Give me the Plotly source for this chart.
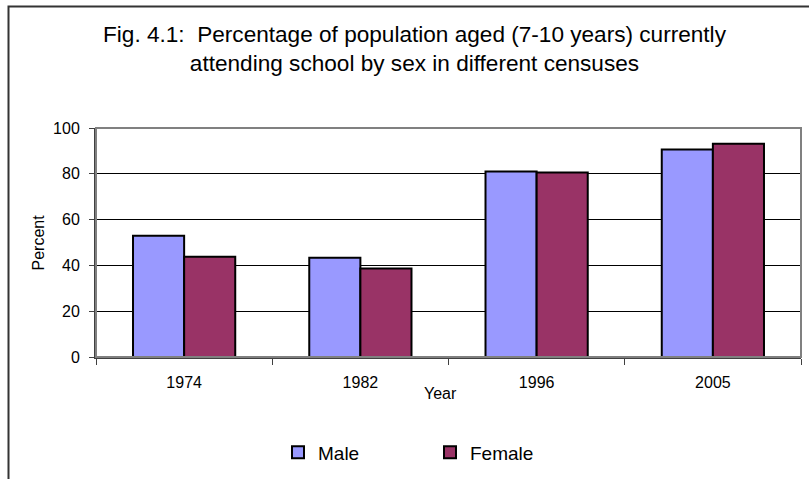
import plotly.graph_objects as go

years = ["1974", "1982", "1996", "2005"]
male = [52.9, 43.3, 81.0, 90.6]
female = [43.8, 38.6, 80.6, 93.1]
y_ticks = [0, 20, 40, 60, 80, 100]

W, H = 809, 479
L, R, T, B = 96, 801, 128, 361
pw, ph = R - L, B - T

def px(x):
    return (x - L) / pw

def py(y):
    return (B - y) / ph

FONT = "Arial, Liberation Sans, sans-serif"

fig = go.Figure()
fig.add_trace(go.Bar(x=years, y=male, name="Male",
                     marker=dict(color="#9999FF", line=dict(color="#000000", width=2))))
fig.add_trace(go.Bar(x=years, y=female, name="Female",
                     marker=dict(color="#993366", line=dict(color="#000000", width=2))))

fig.update_layout(
    width=W, height=H,
    margin=dict(l=L, r=W - R, t=T, b=H - B, pad=0),
    paper_bgcolor="white", plot_bgcolor="white",
    font=dict(family=FONT, color="#000000", size=16),
    barmode="group", bargap=0.42, bargroupgap=0,
    showlegend=True,
    legend=dict(orientation="h", x=px(278), xanchor="left", y=py(458), yanchor="middle",
                font=dict(size=19, family=FONT), entrywidth=107, entrywidthmode="pixels",
                itemwidth=30, bgcolor="rgba(0,0,0,0)", traceorder="normal"),
    xaxis=dict(type="category", showgrid=False, ticks="outside", tickson="boundaries",
               ticklen=6, tickcolor="#404040", tickwidth=1,
               showline=True, linecolor="#404040", linewidth=2,
               tickfont=dict(size=16), ticklabelstandoff=10),
    yaxis=dict(range=[0, 100], tickvals=y_ticks, showgrid=True, gridcolor="#000000",
               gridwidth=1, ticks="outside", ticklen=5, tickcolor="#404040",
               showline=True, linecolor="#404040", linewidth=2, zeroline=False,
               tickfont=dict(size=16), ticklabelstandoff=6),
    shapes=[
        # plot area border (gray)
        dict(type="rect", xref="paper", yref="paper", x0=0, x1=1, y0=0, y1=1,
             line=dict(color="#808080", width=2), layer="above"),
        # chart outer border
        dict(type="rect", xref="paper", yref="paper", x0=px(8.5), x1=px(900),
             y0=py(900), y1=py(4.5), line=dict(color="#333333", width=2), layer="above"),
    ],
    annotations=[
        dict(text="Fig. 4.1:  Percentage of population aged (7-10 years) currently<br>"
                  "attending school by sex in different censuses",
             xref="paper", yref="paper", x=px(415), y=py(48), xanchor="center",
             yanchor="middle", showarrow=False, align="center",
             font=dict(size=22.6, family=FONT)),
        dict(text="Year", xref="paper", yref="paper", x=px(440), y=py(398),
             xanchor="center", yanchor="middle", showarrow=False,
             font=dict(size=16, family=FONT)),
        dict(text="Percent", xref="paper", yref="paper", x=px(38), y=py(244.5),
             xanchor="center", yanchor="middle", showarrow=False, textangle=-90,
             font=dict(size=16, family=FONT)),
    ],
)

fig.update_xaxes(layer="above traces")
fig.update_yaxes(layer="above traces")

fig.write_html("out.html")
